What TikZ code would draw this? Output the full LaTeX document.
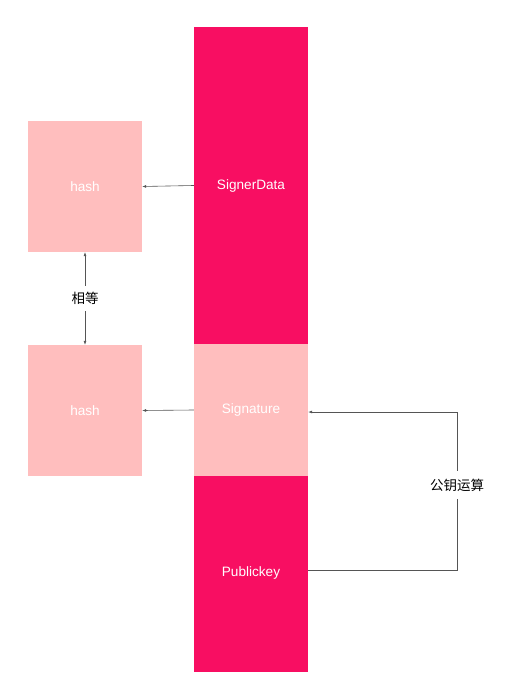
\documentclass[tikz,border=0pt]{standalone}
\usepackage{fontspec}
\setmainfont{Liberation Sans}
\newfontfamily\cjk{Noto Sans CJK SC}
\usetikzlibrary{arrows.meta, positioning}
\definecolor{hotpink}{RGB}{248,14,98}
\definecolor{lightpink}{RGB}{255,190,190}
\definecolor{linegray}{RGB}{85,85,85}

\begin{document}
\begin{tikzpicture}[x=1pt, y=-1pt, font=\fontsize{13.6}{15}\selectfont,
        block/.style={fill=hotpink, text=white, minimum width=114pt, inner sep=0pt},
        lightblock/.style={fill=lightpink, text=white, minimum width=114pt, inner sep=0pt},
        hashbox/.style={fill=lightpink, text=white, minimum width=114pt, minimum height=131pt, inner sep=0pt},
        link/.style={-{Latex[length=4pt, width=3pt]}, draw=linegray, line width=0.6pt},
        tag/.style={fill=white, font=\cjk\fontsize{13.5}{15}\selectfont, inner sep=2pt},
      ]
        \useasboundingbox (0,0) rectangle (514,700);

        % right column
        \node[block, minimum height=317pt] (sdata) at (251,185.5) {SignerData};
        \node[lightblock, minimum height=132pt] (sig) at (251,410) {Signature};
        \node[block, minimum height=196pt] (pub) at (251,574) {\raisebox{4pt}{Publickey}};

        % hash boxes
        \node[hashbox] (hash1) at (85,186.5) {hash};
        \node[hashbox] (hash2) at (85,410.5) {hash};

        % hash arrows
        \draw[link] (sdata.west) -- (hash1.east);
        \draw[link] (sig.west) -- (hash2.east);

        % equal check
        \draw[link, {Latex[length=4pt, width=3pt]}-{Latex[length=4pt, width=3pt]}] (hash1.south) -- node[tag, inner ysep=6pt] (eq) {相等} (hash2.north);

        % public key operation
        \node[tag, inner ysep=8pt] (keyop) at (457,485) {公钥运算};
        \draw[draw=linegray, line width=0.6pt] ([yshift=4pt]pub.east) -| (keyop.south);
        \draw[link] (keyop.north) |- ([yshift=-2pt]sig.east);
      \end{tikzpicture}
\end{document}
